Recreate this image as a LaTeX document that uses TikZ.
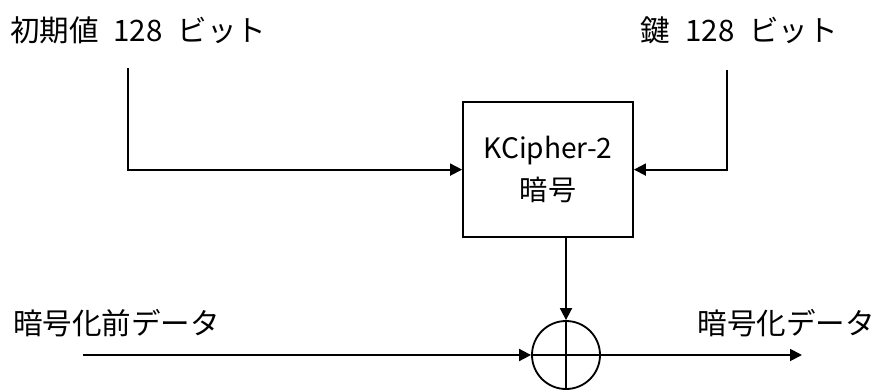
\documentclass[tikz,border=0pt]{standalone}
\usepackage{fontspec}
\setmainfont{Noto Sans CJK JP}
\usetikzlibrary{positioning,arrows.meta}

\begin{document}
\begin{tikzpicture}[
  lbl/.style={font=\fontsize{21}{23}\selectfont, inner sep=0pt},
  cipher/.style={rectangle, draw, line width=1.3pt, minimum width=4.25cm,
                 minimum height=3.375cm, align=center,
                 font=\fontsize{20}{30}\selectfont},
  xorc/.style={circle, draw, line width=1.3pt, minimum size=1.7cm, inner sep=0pt},
  arr/.style={-{Triangle[length=0.3cm,width=0.3cm]}, line width=1.3pt},
  wire/.style={line width=1.3pt}
]
\useasboundingbox (0,0) rectangle (22.025,9.75);

\node[cipher]                    (kc)   at (13.7,5.51) {KCipher-2\\暗号};
\node[xorc]                      (xor)  at (14.15,0.875) {};

\node[lbl, anchor=west]          (iv)   at (0.25,9.0)   {初期値\hspace{0.5em}128\hspace{0.5em}ビット};
\node[lbl, anchor=east]          (key)  at (20.95,9.0)  {鍵\hspace{0.5em}128\hspace{0.5em}ビット};
\node[lbl, anchor=west]          (pt)   at (0.325,1.675) {暗号化前データ};
\node[lbl, anchor=east]          (ct)   at (21.875,1.675) {暗号化データ};

\coordinate (ivtop)  at (3.2,8.05);
\coordinate (keytop) at (18.175,8.0);
\coordinate (ptin)   at (2.075,0.875);
\coordinate (ctout)  at (20.05,0.875);
\coordinate (xbot)   at (xor |- 0,0);

% initial value and key into the cipher
\draw[arr] (ivtop)  |- (kc.west);
\draw[arr] (keytop) |- (kc.east);

% keystream down to the xor
\draw[arr] (kc.south -| xor) -- (xor.north);
\draw[wire] (xor.north) -- (xbot);

% data through the xor
\draw[arr] (ptin) -- (xor.west);
\draw[wire] (xor.west) -- (xor.east);
\draw[arr] (xor.east) -- (ctout);

\end{tikzpicture}
\end{document}
